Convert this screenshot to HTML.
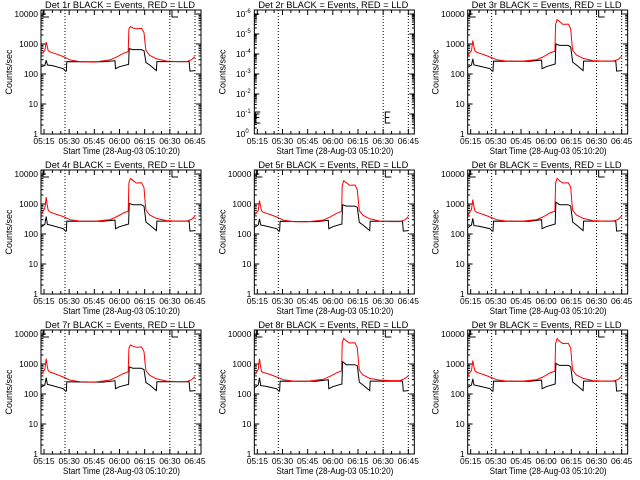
<!DOCTYPE html>
<html><head><meta charset="utf-8">
<style>
html,body{margin:0;padding:0;background:#fff;}
svg{display:block;}
text{font-family:"Liberation Sans",sans-serif;fill:#000;}
</style></head>
<body>
<svg id="chart" width="640" height="480" viewBox="0 0 640 480" xmlns="http://www.w3.org/2000/svg">
<rect x="0" y="0" width="640" height="480" fill="#fff"/>
</svg>
<script>
const detectors = ["1r","2r","3r","4r","5r","6r","7r","8r","9r"];
const xTickLabels = ["05:15","05:30","05:45","06:00","06:15","06:30","06:45"];
const xTickMinutes = [15,30,45,60,75,90,105];
const yTickLabels = ["1","10","100","1000","10000"];
const yTickValues = [1,10,100,1000,10000];
const emptyYTickLabels = ["0","-1","-2","-3","-4","-5","-6"];
const dottedLineMinutes = [27.5,90,105];
const redTimes = [13.2,15.5,16.3,16.8,17.5,18.6,22,26.5,30.5,36.5,45,54.2,58,62.3,65.2,65.6,66.5,68.2,70,73.2,74.6,75.4,75.8,78,82,88,95,100,103,105];
const blackTimes = [13.2,15.5,16.3,17,20,26.5,27.8,28.3,28.6,40,50,57.3,57.6,60,65.4,65.8,68,73,74.6,75.8,78,82,82.3,90,101.5,102,105];
const red1 = [460,600,1150,900,600,550,470,380,295,255,250,295,360,490,560,3200,3800,3400,3200,3300,2400,900,600,420,320,270,260,260,300,380];
const red3 = [420,600,1300,900,600,530,460,370,300,270,265,300,370,500,580,4500,6500,5500,4500,4600,3200,1000,620,430,330,280,270,270,310,390];
const red4 = [450,700,1700,1000,620,540,460,380,300,270,265,300,370,500,580,5000,7000,6000,5000,5100,3500,1000,620,430,330,280,270,270,310,390];
const red5 = [430,600,1300,900,600,530,460,370,290,260,255,290,360,490,570,4200,6000,5000,4200,4300,3000,950,600,420,320,270,260,260,300,380];
const red6 = [420,650,1400,900,600,530,460,370,300,270,265,300,370,500,580,5000,7200,5800,5000,5100,3600,1000,620,430,330,280,270,270,310,400];
const red7 = [450,650,1500,950,600,540,460,370,290,255,250,290,360,480,550,3300,4300,3900,3600,3700,2600,900,600,420,320,270,260,260,300,380];
const red8 = [430,650,1500,900,560,520,460,370,300,270,265,310,380,510,590,5000,7200,5800,5000,5100,3500,1000,620,430,330,290,280,280,330,400];
const red9 = [430,600,1300,900,600,530,460,370,300,270,265,300,370,500,580,4800,7000,5600,4800,4900,3400,1000,620,430,330,280,270,270,310,390];
const black1 = [175,190,290,200,190,150,125,125,260,255,255,275,150,175,210,700,650,650,600,240,200,130,260,260,260,125,130];
const black3 = [165,200,320,200,185,150,125,125,270,265,265,290,150,175,215,1000,900,900,800,250,200,130,270,270,270,125,130];
const black4 = [170,210,380,210,190,150,125,125,270,265,265,290,150,175,215,1050,950,950,850,250,200,130,270,270,270,125,130];
const black5 = [165,200,320,200,185,150,125,125,265,260,260,285,150,175,215,950,850,850,780,245,200,130,265,265,265,125,130];
const black6 = [160,200,330,190,180,150,125,125,270,265,265,300,150,175,215,1150,950,950,850,250,200,130,270,270,270,125,130];
const black7 = [170,200,350,210,190,150,125,125,255,250,250,275,150,175,210,800,720,720,650,240,200,130,255,255,255,125,130];
const black8 = [160,200,350,190,180,150,125,125,270,265,265,300,150,175,215,1200,950,950,880,250,200,130,270,270,270,125,130];
const black9 = [165,200,320,200,185,150,125,125,270,265,265,290,150,175,215,1050,900,900,820,250,200,130,270,270,270,125,130];
const redSeries = [red1,null,red3,red4,red5,red6,red7,red8,red9];
const blackSeries = [black1,null,black3,black4,black5,black6,black7,black8,black9];

const NS = "http://www.w3.org/2000/svg";
const svg = document.getElementById("chart");
function mk(tag, attrs, parent){
  const e = document.createElementNS(NS, tag);
  for (const k in attrs) e.setAttribute(k, attrs[k]);
  (parent||svg).appendChild(e);
  return e;
}
detectors.forEach((det, i) => {
  const col = i % 3, row = Math.floor(i / 3);
  const ox = col * 213.33, oy = row * 160;
  const L = ox + 41, R = ox + 201, T = oy + 10, B = oy + 134;
  const xs = t => ox + 44 + (t - 15) * 151 / 90;
  const ys = v => B - Math.log10(v) * 30;
  const ysE = p => B - p * 20;
  const g = mk("g", {});
  
  
  const title = mk("text", {x: ox + 45, y: oy + 8, "font-size": 9, textLength: 150, lengthAdjust: "spacingAndGlyphs"}, g);
  title.textContent = "Det " + det + " BLACK = Events, RED = LLD";
  
  
  const yl = mk("text", {x: 0, y: 0, "font-size": 9, "text-anchor": "middle", transform: "translate(" + (ox + 12) + "," + (oy + 72) + ") rotate(-90)"}, g);
  yl.textContent = "Counts/sec";
  
  
  const xl = mk("text", {x: ox + 63, y: oy + 154, "font-size": 9, textLength: 117, lengthAdjust: "spacingAndGlyphs"}, g);
  xl.textContent = "Start Time (28-Aug-03 05:10:20)";
  
  
  for (let m = 15; m <= 105; m += 5) {
    const x = xs(m), len = (m % 15 === 0) ? 5 : 3;
    mk("line", {x1: x, x2: x, y1: B, y2: B - len, stroke: "#000", "stroke-width": 1}, g);
    mk("line", {x1: x, x2: x, y1: T, y2: T + len, stroke: "#000", "stroke-width": 1}, g);
  }
  xTickLabels.forEach((lab, j) => {
    const t = mk("text", {x: xs(xTickMinutes[j]), y: B + 10, "font-size": 8.5, "text-anchor": "middle"}, g);
    t.textContent = lab;
    
    
  });
  if (i === 1) {
    emptyYTickLabels.forEach((lab, p) => {
      const y = ysE(p);
      mk("line", {x1: L, x2: L + 5, y1: y, y2: y, stroke: "#000"}, g);
      mk("line", {x1: R, x2: R - 5, y1: y, y2: y, stroke: "#000"}, g);
      for (let k = 2; k < 10 && p < 6; k++) {
        const yy = y - Math.log10(k) * 20;
        mk("line", {x1: L, x2: L + 2.5, y1: yy, y2: yy, stroke: "#000"}, g);
        mk("line", {x1: R, x2: R - 2.5, y1: yy, y2: yy, stroke: "#000"}, g);
      }
      const t = mk("text", {x: L - 9, y: y + 3, "font-size": 8.5, "text-anchor": "end"}, g);
      t.textContent = "10";
      
      
      const s = mk("text", {x: L - 9, y: y - 1, "font-size": 6}, g);
      s.textContent = lab;
    });
    [[ox + 42, B - 22], [ox + 172, B - 22]].forEach(([ex, ey]) => {
      mk("path", {d: "M" + (ex + 5) + "," + ey + " H" + ex + " V" + (ey + 11) + " H" + (ex + 5) + " M" + ex + "," + (ey + 5.5) + " H" + (ex + 4), stroke: "#000", fill: "none"}, g);
    });
  } else {
    yTickValues.forEach((v, p) => {
      const y = ys(v);
      mk("line", {x1: L, x2: L + 5, y1: y, y2: y, stroke: "#000"}, g);
      mk("line", {x1: R, x2: R - 5, y1: y, y2: y, stroke: "#000"}, g);
      for (let k = 2; k < 10; k++) {
        const yy = ys(v * k);
        if (yy < T) break;
        mk("line", {x1: L, x2: L + 2.5, y1: yy, y2: yy, stroke: "#000"}, g);
        mk("line", {x1: R, x2: R - 2.5, y1: yy, y2: yy, stroke: "#000"}, g);
      }
      const t = mk("text", {x: L - 3, y: y + 3, "font-size": 8.5, "text-anchor": "end"}, g);
      t.textContent = yTickLabels[p];
      
      
    });
    [ox + 43, ox + 172].forEach(ex => {
      mk("path", {d: "M" + ex + "," + T + " V" + (T + 7) + " H" + (ex + 6), stroke: "#000", fill: "none"}, g);
    });
    const bl = blackSeries[i], rd = redSeries[i];
    const bp = mk("polyline", {points: blackTimes.map((t, k) => xs(t).toFixed(1) + "," + ys(bl[k]).toFixed(1)).join(" "), fill: "none", stroke: "#000", "stroke-width": 1}, g);
    
    
    const rp = mk("polyline", {points: redTimes.map((t, k) => xs(t).toFixed(1) + "," + ys(rd[k]).toFixed(1)).join(" "), fill: "none", stroke: "#ff0000", "stroke-width": 1}, g);
    
    
  }
  dottedLineMinutes.forEach(m => {
    const d = mk("line", {x1: xs(m), x2: xs(m), y1: T, y2: B, stroke: "#000", "stroke-width": 1, "stroke-dasharray": "1,2"}, g);
    
    
  });
  const frame = mk("rect", {x: L, y: T, width: R - L, height: B - T, fill: "none", stroke: "#000", "stroke-width": 1}, g);
  
  
});
</script>
</body></html>
